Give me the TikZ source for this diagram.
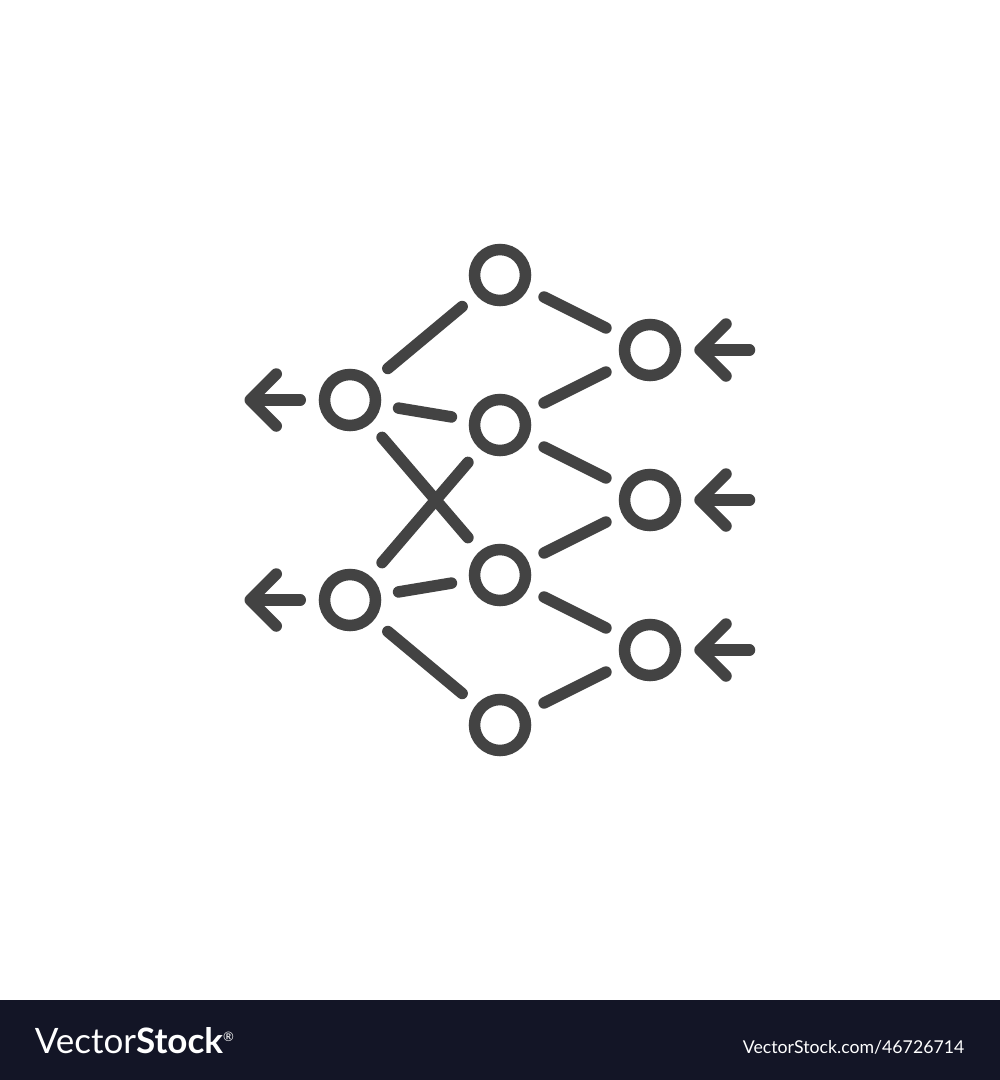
\documentclass[tikz,border=0pt]{standalone}
\usepackage{fontspec}
\usetikzlibrary{positioning, arrows.meta}
\newfontfamily\latofont{Lato}
\definecolor{ink}{RGB}{67,67,67}
\definecolor{banner}{RGB}{19,21,38}
\tikzset{
  dot/.style={circle, draw, line width=11.5pt, minimum size=51pt, inner sep=0pt},
  link/.style={shorten <=18pt, shorten >=18pt},
  outflow/.style={-{Straight Barb[length=26pt, width=52pt, round]}, shorten <=18.5pt},
  inflow/.style={-{Straight Barb[length=26pt, width=52pt, round]}, shorten >=13pt},
  node distance=150pt, on grid
}

\begin{document}
\begin{tikzpicture}[x=1pt, y=-1pt, draw=ink, line width=11.5pt, line cap=round]
      \useasboundingbox (0,0) rectangle (1000,1080);

      \node[dot] (m1) at (500,275) {};
      \node[dot, below = of m1] (m2) {};
      \node[dot, below = of m2] (m3) {};
      \node[dot, below = of m3] (m4) {};
      \node[dot, below left = 125pt and 150pt of m1] (l1) {};
      \node[dot, below = 200pt of l1] (l2) {};
      \node[dot, below right = 75pt and 150pt of m1] (r1) {};
      \node[dot, below = of r1] (r2) {};
      \node[dot, below = of r2] (r3) {};

      \coordinate (outl1) at (244.5,400);
      \coordinate (outl2) at (244.5,600);
      \coordinate (inr1) at (749.5,350);
      \coordinate (inr2) at (749.5,500);
      \coordinate (inr3) at (749.5,650);

      \draw[link] (l1) edge (m1)
                  (l1) edge (m2)
                  (l1) edge (m3)
                  (l2) edge (m2)
                  (l2) edge (m3)
                  (l2) edge (m4)
                  (m1) edge (r1)
                  (m2) edge (r1)
                  (m2) edge (r2)
                  (m3) edge (r2)
                  (m3) edge (r3)
                  (m4) edge (r3);

      \draw[outflow] (l1) -- (outl1);
      \draw[outflow] (l2) -- (outl2);
      \draw[inflow] (inr1) -- (r1);
      \draw[inflow] (inr2) -- (r2);
      \draw[inflow] (inr3) -- (r3);

      % watermark strip
      \fill[banner] (0,1000) rectangle (1000,1080);
      \node[anchor=base west, inner sep=0pt, text=white,
            font=\latofont\fontsize{35}{42}\selectfont] (brand) at (29,1053)
            {Vector\textbf{Stock}\raisebox{12pt}{\fontsize{13}{15}\selectfont\textregistered}};
      \node[anchor=base east, inner sep=0pt, text=white,
            font=\latofont\fontsize{17.7}{21}\selectfont] (link) at (970,1053)
            {VectorStock.com/46726714};
    \end{tikzpicture}
\end{document}
